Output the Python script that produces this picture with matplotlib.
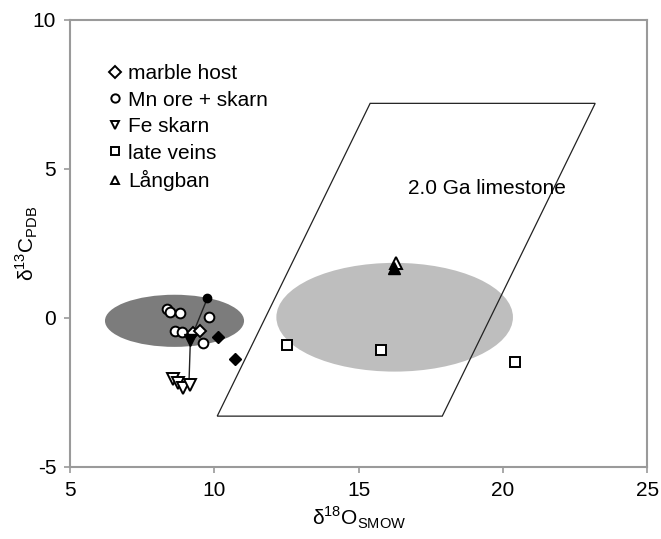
import matplotlib
matplotlib.use("Agg")
import matplotlib.pyplot as plt
from matplotlib.patches import Ellipse, Polygon

plt.rcParams['font.family'] = ['Liberation Sans', 'DejaVu Sans']
plt.rcParams['font.size'] = 15
plt.rcParams['axes.unicode_minus'] = False

# open symbols (legend groups)
marble_x = [9.25, 9.50]
marble_y = [-0.51, -0.43]
mn_x = [8.35, 8.45, 8.81, 9.83, 8.64, 8.87, 9.60]
mn_y = [0.28, 0.18, 0.16, 0.04, -0.43, -0.46, -0.83]
fe_x = [8.58, 8.75, 8.90, 9.14]
fe_y = [-2.06, -2.19, -2.36, -2.25]
vein_x = [12.53, 15.77, 20.42]
vein_y = [-0.91, -1.07, -1.47]
lang_x = [16.30]
lang_y = [1.84]

# filled symbols
fill_dia_x = [10.14, 10.72]
fill_dia_y = [-0.63, -1.39]
fill_dot_x = [9.76]
fill_dot_y = [0.66]
fill_tri_dn_x = [9.17]
fill_tri_dn_y = [-0.74]
fill_tri_up_x = [16.23]
fill_tri_up_y = [1.67]

# tie line
tie_x = [9.76, 9.17, 9.12]
tie_y = [0.66, -0.74, -2.22]

# fields
dark_field = (8.62, -0.10, 4.82, 1.75)   # x, y, width, height
light_field = (16.25, 0.02, 8.2, 3.65)
limestone_x = [10.1, 17.9, 23.2, 15.4]
limestone_y = [-3.3, -3.3, 7.2, 7.2]

fig = plt.figure(figsize=(6.61, 5.39), dpi=100)
ax = fig.add_axes([0.106, 0.134, 0.873, 0.829])

ax.add_patch(Ellipse(dark_field[:2], dark_field[2], dark_field[3],
                     facecolor='#7c7c7c', edgecolor='none', zorder=1))
ax.add_patch(Ellipse(light_field[:2], light_field[2], light_field[3],
                     facecolor='#bebebe', edgecolor='none', zorder=1))
ax.add_patch(Polygon(list(zip(limestone_x, limestone_y)), closed=True,
                     fill=False, edgecolor='#222222', linewidth=0.9, zorder=2))
ax.text(19.45, 4.33, '2.0 Ga limestone', ha='center', va='center', fontsize=15)

ax.plot(tie_x, tie_y, color='#222222', linewidth=1.0, zorder=3)

ms = 7
op = dict(linestyle='none', markerfacecolor='white', markeredgecolor='black',
          markeredgewidth=1.4, zorder=4)
ax.plot(marble_x, marble_y, marker='D', markersize=ms - 0.5, label='marble host', **op)
ax.plot(mn_x, mn_y, marker='o', markersize=ms, label='Mn ore + skarn', **op)
ax.plot(fe_x, fe_y, marker='v', markersize=ms + 1.5, label='Fe skarn', **op)
ax.plot(vein_x, vein_y, marker='s', markersize=ms - 0.5, label='late veins', **op)
ax.plot(lang_x, lang_y, marker='^', markersize=ms + 1.5, label='Långban', **op)

fl = dict(linestyle='none', color='black', zorder=5)
ax.plot(fill_dia_x, fill_dia_y, marker='D', markersize=6, **fl)
ax.plot(fill_dot_x, fill_dot_y, marker='o', markersize=6, **fl)
ax.plot(fill_tri_dn_x, fill_tri_dn_y, marker='v', markersize=8, **fl)
ax.plot(fill_tri_up_x, fill_tri_up_y, marker='^', markersize=8, **fl)

ax.set_xlim(5, 25)
ax.set_ylim(-5, 10)
ax.set_xticks([5, 10, 15, 20, 25])
ax.set_yticks([-5, 0, 5, 10])
ax.set_xlabel(r'δ$^{\mathregular{18}}$O$_{\mathregular{SMOW}}$', labelpad=4)
ax.set_ylabel(r'δ$^{\mathregular{13}}$C$_{\mathregular{PDB}}$')
ax.yaxis.set_label_coords(-0.052, 0.5)

for s in ax.spines.values():
    s.set_color('#9a9a9a')
    s.set_linewidth(1.5)
ax.tick_params(direction='out', length=4, width=1.2, color='#9a9a9a',
               labelsize=15, pad=6)

leg = ax.legend(loc='upper left', bbox_to_anchor=(0.055, 0.92), frameon=False,
                handlelength=0.5, handletextpad=0.35, labelspacing=0.36,
                borderaxespad=0, fontsize=15)
for h in leg.legend_handles:
    h.set_markersize(6)

fig.savefig('out.png', dpi=100)
